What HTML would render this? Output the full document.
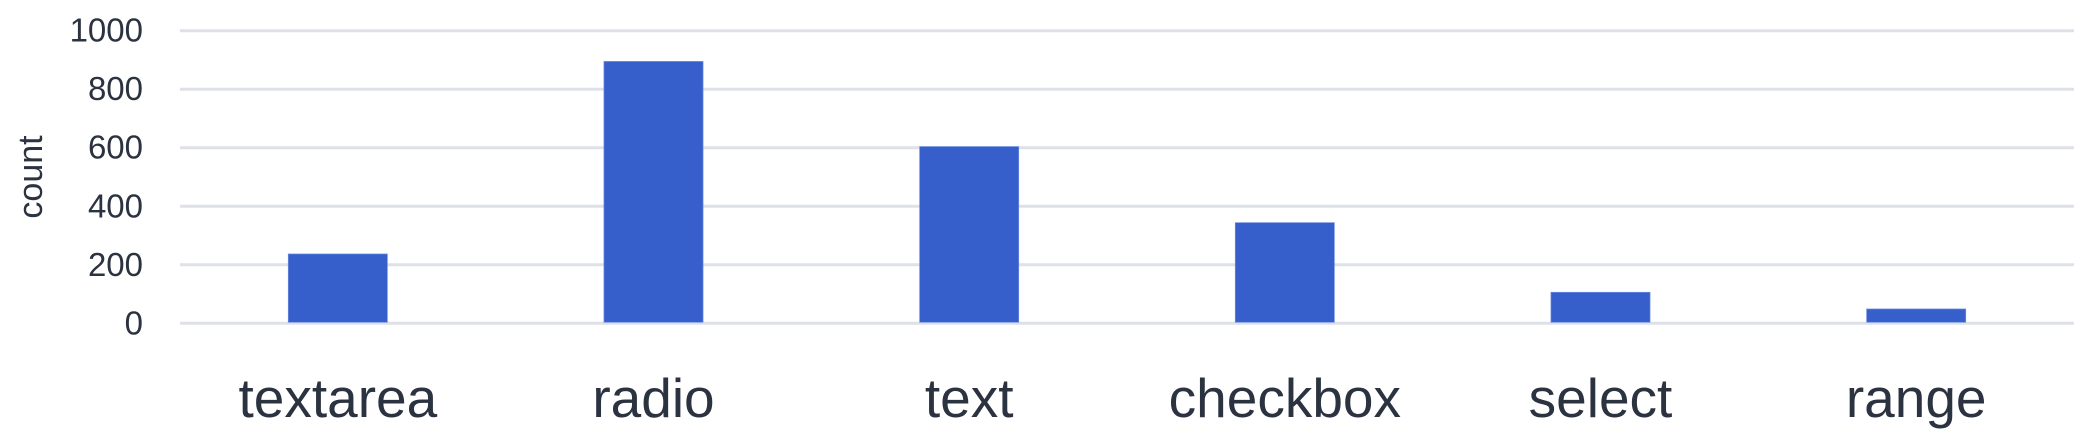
<!DOCTYPE html>
<html><head><meta charset="utf-8"><style>
html,body{margin:0;padding:0;background:#fff;}
svg{display:block;}
text{font-family:"Liberation Sans",sans-serif;fill:#2b3240;}
</style></head><body>
<svg id="chart" width="2094" height="448" viewBox="0 0 2094 448" xmlns="http://www.w3.org/2000/svg">
<g id="grid"></g>
<g id="bars"></g>
<g id="yticks"></g>
<g id="xticks"></g>
<text transform="translate(42,177) rotate(-90)" text-anchor="middle" font-size="34">count</text>
</svg>
<script>
const categories = ["textarea","radio","text","checkbox","select","range"];
const counts = [237, 895, 604, 344, 106, 49];
const yTicks = [0, 200, 400, 600, 800, 1000];

const NS = "http://www.w3.org/2000/svg";
const x0 = 180, x1 = 2074, y0 = 323.3, yTop = 30.7, yMax = 1000;
const band = (x1 - x0) / categories.length;
const barW = band * 0.314;
function yScale(v){ return y0 - (v / yMax) * (y0 - yTop); }
function xCenter(i){ return x0 + band * (i + 0.5); }

const grid = document.getElementById('grid');
const yt = document.getElementById('yticks');
yTicks.forEach(t => {
  const l = document.createElementNS(NS,'line');
  
  
  l.setAttribute('x1', x0); l.setAttribute('x2', x1);
  l.setAttribute('y1', yScale(t)); l.setAttribute('y2', yScale(t));
  l.setAttribute('stroke', '#dfe1e8'); l.setAttribute('stroke-width', '3');
  grid.appendChild(l);
  const tx = document.createElementNS(NS,'text');
  
  
  tx.setAttribute('x', 143); tx.setAttribute('y', yScale(t) + 11);
  tx.setAttribute('text-anchor', 'end'); tx.setAttribute('font-size', '33');
  tx.textContent = t;
  yt.appendChild(tx);
});

const bars = document.getElementById('bars');
const xt = document.getElementById('xticks');
categories.forEach((c, i) => {
  const r = document.createElementNS(NS,'rect');
  
  
  const top = yScale(counts[i]);
  r.setAttribute('x', xCenter(i) - barW/2); r.setAttribute('y', top);
  r.setAttribute('width', barW); r.setAttribute('height', y0 - 1 - top);
  r.setAttribute('fill', '#365fcc'); r.setAttribute('stroke', '#6d8ee0'); r.setAttribute('stroke-width', '0.7');
  bars.appendChild(r);
  const tx = document.createElementNS(NS,'text');
  
  
  tx.setAttribute('x', xCenter(i)); tx.setAttribute('y', 417);
  tx.setAttribute('text-anchor', 'middle'); tx.setAttribute('font-size', '55');
  tx.textContent = c;
  xt.appendChild(tx);
});
</script>
</body></html>
